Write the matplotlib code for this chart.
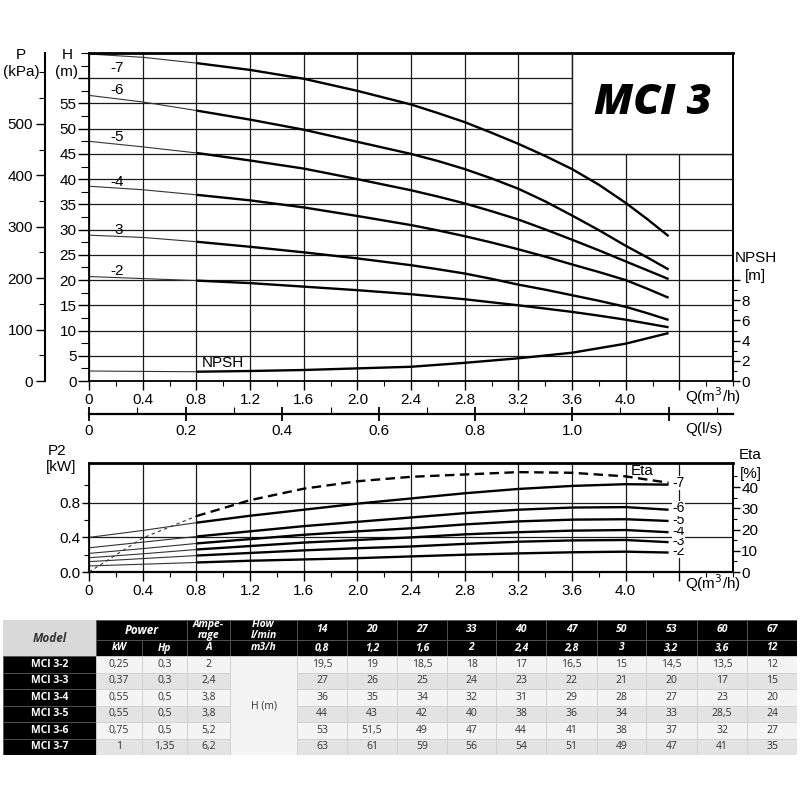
import numpy as np
import matplotlib
matplotlib.use("Agg")
import matplotlib.pyplot as plt
from matplotlib.patches import Rectangle
from matplotlib.ticker import MultipleLocator

plt.rcParams["font.family"] = ["Liberation Sans", "DejaVu Sans"]

# flow points where the head curves were read, m3/h
flow_h = [0, 0.4, 0.8, 1.2, 1.6, 2.0, 2.4, 2.6, 2.8, 3.0, 3.2, 3.4, 3.6, 3.8, 4.0, 4.16, 4.32]

# head H (m) per stage count
head_2 = [20.7, 20.3, 19.9, 19.4, 18.7, 18.0, 17.2, 16.7, 16.2, 15.6, 15.0, 14.35, 13.7, 12.95, 12.15, 11.4, 10.65]
head_3 = [28.9, 28.45, 27.6, 26.6, 25.5, 24.3, 22.95, 22.15, 21.3, 20.25, 19.1, 18.1, 17.0, 15.9, 14.7, 13.45, 12.1]
head_4 = [38.6, 37.9, 36.9, 35.8, 34.4, 32.7, 30.9, 29.85, 28.7, 27.45, 26.1, 24.65, 23.1, 21.6, 20.0, 18.3, 16.5]
head_5 = [47.5, 46.4, 45.2, 43.7, 42.1, 40.0, 37.8, 36.55, 35.2, 33.65, 32.0, 30.05, 28.0, 25.9, 23.7, 21.95, 20.2]
head_6 = [56.6, 55.3, 53.6, 51.8, 49.8, 47.4, 45.0, 43.6, 42.0, 40.15, 38.1, 35.6, 32.8, 29.9, 26.8, 24.5, 22.1]
head_7 = [64.8, 64.15, 63.0, 61.65, 59.9, 57.5, 54.8, 53.1, 51.3, 49.2, 47.0, 44.6, 42.0, 38.9, 35.3, 32.1, 28.7]

# flow points for NPSH, power and efficiency, m3/h
flow = [0, 0.4, 0.8, 1.2, 1.6, 2.0, 2.4, 2.8, 3.2, 3.6, 4.0, 4.32]
npsh = [0.99, 0.95, 0.92, 0.99, 1.09, 1.25, 1.41, 1.80, 2.25, 2.80, 3.70, 4.75]

# shaft power P2 (kW) per stage count
p2_2 = [0.07, 0.09, 0.11, 0.13, 0.145, 0.16, 0.18, 0.20, 0.215, 0.228, 0.235, 0.225]
p2_3 = [0.12, 0.155, 0.19, 0.22, 0.25, 0.275, 0.295, 0.325, 0.35, 0.365, 0.37, 0.345]
p2_4 = [0.165, 0.21, 0.26, 0.30, 0.34, 0.37, 0.40, 0.435, 0.46, 0.478, 0.485, 0.46]
p2_5 = [0.215, 0.27, 0.33, 0.38, 0.43, 0.47, 0.505, 0.55, 0.585, 0.605, 0.61, 0.59]
p2_6 = [0.28, 0.345, 0.41, 0.47, 0.53, 0.58, 0.63, 0.68, 0.72, 0.745, 0.75, 0.72]
p2_7 = [0.40, 0.48, 0.57, 0.65, 0.72, 0.79, 0.85, 0.91, 0.96, 0.995, 1.015, 1.01]
eta = [0, 16.0, 26.3, 33.8, 39.2, 42.7, 44.8, 45.9, 47.0, 46.7, 45.0, 42.0]

stage_labels = ["-2", "-3", "-4", "-5", "-6", "-7"]
head_curves = [head_2, head_3, head_4, head_5, head_6, head_7]
p2_curves = [p2_2, p2_3, p2_4, p2_5, p2_6, p2_7]

q_ticks = [0, 0.4, 0.8, 1.2, 1.6, 2.0, 2.4, 2.8, 3.2, 3.6, 4.0, 4.4]
q_labels = ["0", "0.4", "0.8", "1.2", "1.6", "2.0", "2.4", "2.8", "3.2", "3.6", "4.0", ""]
ls_ticks = [0, 0.2, 0.4, 0.6, 0.8, 1.0, 1.2]
ls_labels = ["0", "0.2", "0.4", "0.6", "0.8", "1.0", ""]
h_ticks = [0, 5, 10, 15, 20, 25, 30, 35, 40, 45, 50, 55, 60]
h_labels = ["0", "5", "10", "15", "20", "25", "30", "35", "40", "45", "50", "55", ""]
p_ticks = [0, 100, 200, 300, 400, 500]
npsh_ticks = [0, 2, 4, 6, 8, 10]
npsh_labels = ["0", "2", "4", "6", "8", ""]
p2_ticks = [0, 0.4, 0.8]
p2_labels = ["0.0", "0.4", "0.8"]
eta_ticks = [0, 10, 20, 30, 40]

# data table
table_models = ["MCI 3-2", "MCI 3-3", "MCI 3-4", "MCI 3-5", "MCI 3-6", "MCI 3-7"]
table_kw = ["0,25", "0,37", "0,55", "0,55", "0,75", "1"]
table_hp = ["0,3", "0,3", "0,5", "0,5", "0,5", "1,35"]
table_amp = ["2", "2,4", "3,8", "3,8", "5,2", "6,2"]
table_lmin = ["14", "20", "27", "33", "40", "47", "50", "53", "60", "67"]
table_m3h = ["0,8", "1,2", "1,6", "2", "2,4", "2,8", "3", "3,2", "3,6", "12"]
table_heads = [
    ["19,5", "19", "18,5", "18", "17", "16,5", "15", "14,5", "13,5", "12"],
    ["27", "26", "25", "24", "23", "22", "21", "20", "17", "15"],
    ["36", "35", "34", "32", "31", "29", "28", "27", "23", "20"],
    ["44", "43", "42", "40", "38", "36", "34", "33", "28,5", "24"],
    ["53", "51,5", "49", "47", "44", "41", "38", "37", "32", "27"],
    ["63", "61", "59", "56", "54", "51", "49", "47", "41", "35"],
]

W, H = 800, 800
KPA_PER_M = 9.81


def px_box(x0, y0, x1, y1):
    return [x0 / W, 1 - y1 / H, (x1 - x0) / W, (y1 - y0) / H]


def fig_label(fig, x, y, s, ha="center", size=11):
    fig.text(x / W, 1 - y / H, s, ha=ha, va="center", fontsize=size)


def split_plot(ax, x, y, dashed=False, thin_to=3):
    # thin line up to 0.8 m3/h, heavy line for the working range
    thin_style = dict(color="#333333", lw=0.8)
    thick_style = dict(color="black", lw=1.7, solid_capstyle="butt",
                       solid_joinstyle="round")
    if dashed:
        thin_style["dashes"] = (3, 3)
        thick_style["dashes"] = (4, 2.3)
    ax.plot(x[:thin_to], y[:thin_to], **thin_style)
    ax.plot(x[thin_to - 1:], y[thin_to - 1:], **thick_style)


fig = plt.figure(figsize=(8, 8), dpi=100)

# ---------------- head curves ----------------
ax = fig.add_axes(px_box(89, 53, 733, 381))
ax.set_xlim(0, 4.8)
ax.set_ylim(0, 65)
ax.set_axisbelow(True)
ax.set_xticks(q_ticks, labels=q_labels)
ax.xaxis.set_minor_locator(MultipleLocator(0.2))
ax.set_yticks(h_ticks, labels=h_labels)
ax.yaxis.set_minor_locator(MultipleLocator(2.5))
ax.tick_params(axis="x", which="major", length=6.5, width=1, labelsize=11, pad=2)
ax.tick_params(axis="x", which="minor", length=3.5, width=0.8)
ax.tick_params(axis="y", which="major", length=8, width=1, labelsize=11, pad=1)
ax.tick_params(axis="y", which="minor", length=6, width=0.8)
ax.grid(True, which="major", color="#1a1a1a", lw=0.9)
for side in ax.spines:
    ax.spines[side].set_linewidth(1.3)
ax.spines["top"].set_linewidth(2)

ax.add_patch(Rectangle((3.6, 45), 1.2, 20, facecolor="white",
                       edgecolor="#1a1a1a", lw=1.0, zorder=1.5))
ax.text(4.2, 55, "MCI 3", ha="center", va="center", fontsize=31,
        family=["Open Sans", "DejaVu Sans"], fontweight="heavy", fontstyle="italic")

for h in head_curves:
    split_plot(ax, flow_h, h)

label_h = [21.8, 29.9, 39.4, 48.3, 57.6, 62.0]
for lab, y in zip(stage_labels, label_h):
    ax.text(0.16, y, lab, fontsize=11, va="center", ha="left")
ax.text(0.84, 3.6, "NPSH", fontsize=11, va="center", ha="left")

# pressure scale
ax_p = ax.twinx()
ax_p.set_ylim(0, 65 * KPA_PER_M)
ax_p.yaxis.set_ticks_position("left")
ax_p.spines["left"].set_position(("axes", -44 / 644))
ax_p.spines["left"].set_linewidth(1.5)
for side in ("right", "top", "bottom"):
    ax_p.spines[side].set_visible(False)
ax_p.set_yticks(p_ticks)
ax_p.yaxis.set_minor_locator(MultipleLocator(50))
ax_p.tick_params(axis="y", which="major", length=6.5, width=1, labelsize=11, pad=2)
ax_p.tick_params(axis="y", which="minor", length=4, width=0.8)

# NPSH scale
ax_n = ax.twinx()
ax_n.set_ylim(0, 32.5)
for side in ("left", "top", "bottom"):
    ax_n.spines[side].set_visible(False)
ax_n.spines["right"].set_linewidth(1.3)
ax_n.set_yticks(npsh_ticks, labels=npsh_labels)
ax_n.set_yticks([1, 3, 5, 7, 9], minor=True)
ax_n.tick_params(axis="y", which="major", length=5, width=1, labelsize=11, pad=1)
ax_n.tick_params(axis="y", which="minor", length=3, width=0.8)
split_plot(ax_n, flow, npsh)

# flow in l/s
sec = ax.secondary_xaxis(-33 / 328, functions=(lambda q: q / 3.6, lambda l: l * 3.6))
sec.set_xticks(ls_ticks, labels=ls_labels)
sec.xaxis.set_minor_locator(MultipleLocator(0.1))
sec.tick_params(which="major", direction="inout", length=10, width=1.3, labelsize=11, pad=2)
sec.tick_params(which="minor", direction="in", length=5, width=0.8)
sec.spines["bottom"].set_linewidth(1.6)

fig_label(fig, 21, 55, "P")
fig_label(fig, 21, 72, "(kPa)")
fig_label(fig, 67, 55, "H")
fig_label(fig, 67, 72, "(m)")
fig_label(fig, 735, 258, "NPSH", ha="left")
fig_label(fig, 745, 276, "[m]", ha="left")
fig_label(fig, 685, 396, "Q(m$^3$/h)", ha="left")
fig_label(fig, 685, 429, "Q(l/s)", ha="left")

# ---------------- power / efficiency ----------------
ax2 = fig.add_axes(px_box(89, 463, 733, 572))
ax2.set_xlim(0, 4.8)
ax2.set_ylim(0, 1.26)
ax2.set_axisbelow(True)
ax2.set_xticks(q_ticks, labels=q_labels)
ax2.xaxis.set_minor_locator(MultipleLocator(0.2))
ax2.set_yticks(p2_ticks, labels=p2_labels)
ax2.set_yticks([0.2, 0.6, 1.0], minor=True)
ax2.tick_params(axis="x", which="major", length=6.5, width=1, labelsize=11, pad=2)
ax2.tick_params(axis="x", which="minor", length=3.5, width=0.8)
ax2.tick_params(axis="y", which="major", length=5, width=1, labelsize=11, pad=1)
ax2.tick_params(axis="y", which="minor", length=3.5, width=0.8)
ax2.grid(True, which="major", color="#1a1a1a", lw=0.9)
for side in ax2.spines:
    ax2.spines[side].set_linewidth(1.3)
ax2.spines["top"].set_linewidth(2)
ax2.spines["bottom"].set_linewidth(1.6)

for p in p2_curves:
    split_plot(ax2, flow, p)
for lab, p in zip(stage_labels, p2_curves):
    ax2.text(4.35, p[-1] + 0.015, lab, fontsize=10, va="center", ha="left",
             bbox=dict(facecolor="white", edgecolor="none", pad=0.1))

ax_e = ax2.twinx()
ax_e.set_ylim(0, 51.3)
for side in ("left", "top", "bottom"):
    ax_e.spines[side].set_visible(False)
ax_e.spines["right"].set_linewidth(1.3)
ax_e.set_yticks(eta_ticks)
ax_e.set_yticks([5, 15, 25, 35, 45], minor=True)
ax_e.tick_params(axis="y", which="major", length=5, width=1, labelsize=11, pad=1)
ax_e.tick_params(axis="y", which="minor", length=3, width=0.8)
split_plot(ax_e, flow, eta, dashed=True)
ax_e.text(4.04, 47.6, "Eta", fontsize=11, va="center", ha="left")

fig_label(fig, 57, 451, "P2")
fig_label(fig, 61, 467, "[kW]")
fig_label(fig, 739, 455, "Eta", ha="left")
fig_label(fig, 740, 474, "[%]", ha="left")
fig_label(fig, 685, 583, "Q(m$^3$/h)", ha="left")

# ---------------- table ----------------
axt = fig.add_axes(px_box(3, 620, 797, 755))
axt.set_xlim(3, 797)
axt.set_ylim(755, 620)
axt.axis("off")

col_x = [3, 96, 142, 187, 230, 297, 347, 397, 447, 496, 546, 597, 646, 697, 747, 797]
row_y = [620, 640, 656, 672.5, 689, 705.5, 722, 738.5, 755]
tfont = dict(family=["Open Sans", "DejaVu Sans"], fontsize=7.5)


def cell(x0, x1, y0, y1, fc, text="", color="#333333", ec="#cfcfcf", **kw):
    axt.add_patch(Rectangle((x0, y0), x1 - x0, y1 - y0, facecolor=fc,
                            edgecolor=ec, lw=0.6))
    if text:
        style = dict(tfont)
        style.update(kw)
        axt.text((x0 + x1) / 2, (y0 + y1) / 2, text, ha="center", va="center",
                 color=color, linespacing=0.9, **style)


hdr = dict(color="white", fontweight="bold", fontstyle="italic", ec="#555555")
cell(col_x[0], col_x[1], row_y[0], row_y[2], "#d9d9d9", "Model", color="#333333",
     fontweight="bold", fontstyle="italic", fontsize=8.5, ec="#d9d9d9")
cell(col_x[1], col_x[3], row_y[0], row_y[1], "black", "Power", fontsize=8.5, **hdr)
cell(col_x[3], col_x[4], row_y[0], row_y[1], "black", "Ampe-\nrage", **hdr)
cell(col_x[4], col_x[5], row_y[0], row_y[1], "black", "Flow\nl/min", **hdr)
for j, s in enumerate(["kW", "Hp", "A", "m3/h"]):
    cell(col_x[1 + j], col_x[2 + j], row_y[1], row_y[2], "black", s, **hdr)
for j in range(len(table_lmin)):
    cell(col_x[5 + j], col_x[6 + j], row_y[0], row_y[1], "black", table_lmin[j], **hdr)
    cell(col_x[5 + j], col_x[6 + j], row_y[1], row_y[2], "black", table_m3h[j], **hdr)

for i, model in enumerate(table_models):
    y0, y1 = row_y[2 + i], row_y[3 + i]
    fc = "#f4f4f4" if i % 2 == 0 else "#e3e3e3"
    cell(col_x[0], col_x[1], y0, y1, "black", model, color="white",
         fontweight="bold", ec="#555555")
    for j, s in enumerate([table_kw[i], table_hp[i], table_amp[i]]):
        cell(col_x[1 + j], col_x[2 + j], y0, y1, fc, s)
    for j, s in enumerate(table_heads[i]):
        cell(col_x[5 + j], col_x[6 + j], y0, y1, fc, s)
cell(col_x[4], col_x[5], row_y[2], row_y[-1], "#f4f4f4", "H (m)")

fig.savefig("out.png", dpi=100)
